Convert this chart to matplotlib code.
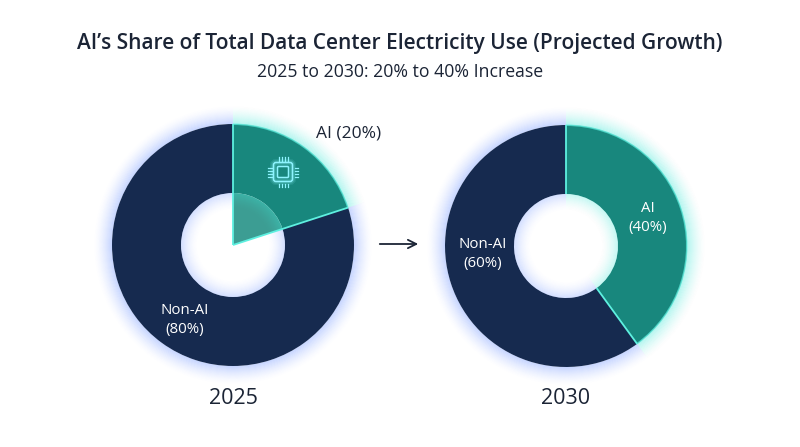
import numpy as np
import matplotlib
matplotlib.use("Agg")
import matplotlib.pyplot as plt
from matplotlib.patches import Wedge, Circle, FancyBboxPatch

# data
years = ["2025", "2030"]
categories = ["AI", "Non-AI"]
ai_share = [20, 40]
non_ai_share = [80, 60]

title = "AI\u2019s Share of Total Data Center Electricity Use (Projected Growth)"
subtitle = "2025 to 2030: 20% to 40% Increase"

navy = "#162a4f"
teal = "#18877d"
edge = "#5ef0e0"
glow_blue = "#6f95ff"
glow_cyan = "#3fe8d8"
text_dark = "#1b2435"

plt.rcParams["font.family"] = ["Open Sans", "DejaVu Sans"]

W, H = 800, 447
fig = plt.figure(figsize=(8, 4.47), dpi=100)
ax = fig.add_axes([0, 0, 1, 1])

centers = [(233, H - 245), (566, H - 246)]
R = 121
r_in = 52


def glow_ring(c, r, t1, t2, color, outward=True, n=14, step=1.0, a0=0.16):
    for i in range(n):
        a = a0 * (1 - i / n) ** 1.6
        if outward:
            ax.add_patch(Wedge(c, r + (i + 1) * step, t1, t2, width=step,
                               facecolor=color, edgecolor="none", alpha=a, zorder=1))
        else:
            ax.add_patch(Wedge(c, r - i * step, t1, t2, width=step,
                               facecolor=color, edgecolor="none", alpha=a, zorder=4))


for k in range(2):
    c = centers[k]
    vals = [ai_share[k], non_ai_share[k]]
    wedges, _ = ax.pie(vals, center=c, radius=R, startangle=90, counterclock=False,
                       colors=[teal, navy],
                       wedgeprops=dict(width=R - r_in, edgecolor="none"))
    for w in wedges:
        w.set_zorder(3)
    # glow around outside and inside the hole
    for w, gc in zip(wedges, [glow_cyan, glow_blue]):
        t1, t2 = w.theta1, w.theta2
        glow_ring(c, R, t1, t2, gc, outward=True, n=18, step=1.0, a0=0.4)
        glow_ring(c, r_in, t1, t2, gc, outward=False, n=16, step=1.0, a0=0.3)
    ai_w = wedges[0]
    # bright rim along AI arc
    ax.add_patch(Wedge(c, R + 0.5, ai_w.theta1, ai_w.theta2, width=1.5,
                       facecolor=edge, edgecolor="none", alpha=0.7, zorder=5))
    # boundary lines
    for ang in [ai_w.theta1, ai_w.theta2]:
        rad = np.deg2rad(ang)
        r0 = 0 if k == 0 else r_in
        ax.plot([c[0] + r0 * np.cos(rad), c[0] + R * np.cos(rad)],
                [c[1] + r0 * np.sin(rad), c[1] + R * np.sin(rad)],
                color=edge, lw=1.3, zorder=6, solid_capstyle="butt")
    if k == 0:
        # AI slice reaching into the centre, lighter
        ax.add_patch(Wedge(c, r_in, ai_w.theta1, ai_w.theta2,
                           facecolor="#3c9d93", edgecolor="none", zorder=3.5))
    ax.text(c[0], H - 398, years[k], ha="center", va="center",
            fontsize=15.5, color=text_dark)

# labels
ax.text(349, H - 133, "AI (20%)", ha="center", va="center", fontsize=12.5, color=text_dark)
ax.text(185, H - 320, "Non-AI\n(80%)", ha="center", va="center", fontsize=10.8,
        color="white", linespacing=1.35, zorder=7)
ax.text(648, H - 218, "AI\n(40%)", ha="center", va="center", fontsize=10.8,
        color="white", linespacing=1.35, zorder=7)
ax.text(483, H - 254, "Non-AI\n(60%)", ha="center", va="center", fontsize=10.8,
        color="white", linespacing=1.35, zorder=7)

# arrow between the charts
ax.annotate("", xy=(421, H - 244), xytext=(377, H - 244),
            arrowprops=dict(arrowstyle="->,head_length=0.6,head_width=0.3",
                            color="#1b2435", lw=1.3))

# chip icon in AI slice
cx, cy = 283, H - 172
chip = "#8ef4ff"
for gw, ga in [(5, 0.12), (3, 0.2)]:
    ax.add_patch(FancyBboxPatch((cx - 9.5, cy - 9.5), 19, 19,
                                boxstyle="round,pad=0,rounding_size=2.5",
                                facecolor="none", edgecolor=chip, lw=gw, alpha=ga, zorder=8))
ax.add_patch(FancyBboxPatch((cx - 9.5, cy - 9.5), 19, 19,
                            boxstyle="round,pad=0,rounding_size=2.5",
                            facecolor="none", edgecolor=chip, lw=1.1, zorder=9))
ax.add_patch(FancyBboxPatch((cx - 5.5, cy - 5.5), 11, 11,
                            boxstyle="round,pad=0,rounding_size=1",
                            facecolor="none", edgecolor=chip, lw=1.1, zorder=9))
for p in [-4.5, -1.5, 1.5, 4.5]:
    ax.plot([cx + p, cx + p], [cy + 11.5, cy + 15], color=chip, lw=0.9, zorder=9)
    ax.plot([cx + p, cx + p], [cy - 11.5, cy - 15], color=chip, lw=0.9, zorder=9)
    ax.plot([cx + 11.5, cx + 15], [cy + p, cy + p], color=chip, lw=0.9, zorder=9)
    ax.plot([cx - 11.5, cx - 15], [cy + p, cy + p], color=chip, lw=0.9, zorder=9)

# titles
ax.text(400, H - 44, title, ha="center", va="center", fontsize=15,
        fontweight="semibold", color=text_dark)
ax.text(400, H - 72, subtitle, ha="center", va="center", fontsize=12.7, color=text_dark)

ax.set_xlim(0, W)
ax.set_ylim(0, H)
ax.set_aspect("auto")
ax.axis("off")

fig.savefig("out.png", dpi=100, facecolor="white")
